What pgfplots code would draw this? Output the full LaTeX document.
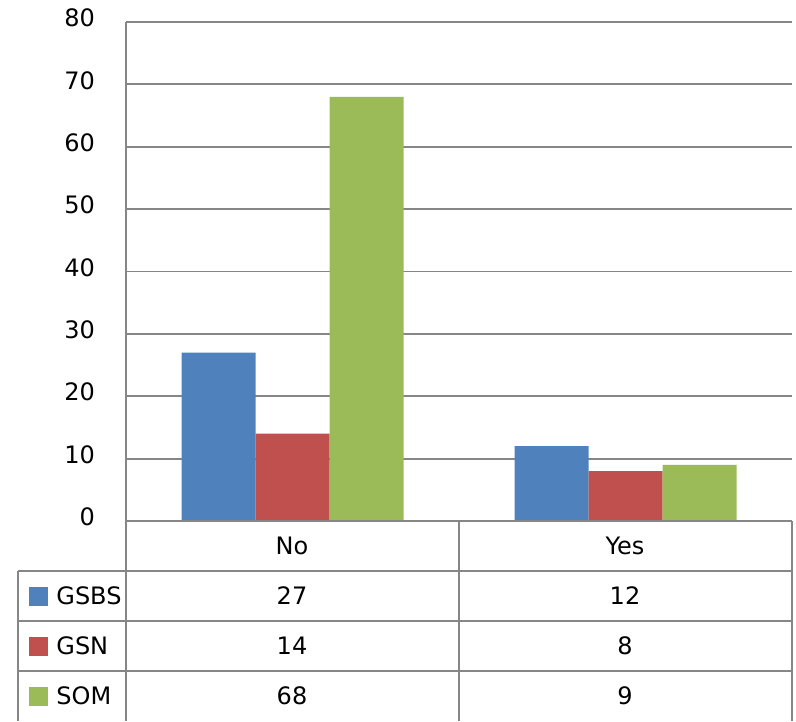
\documentclass[border=0pt]{standalone}
\usepackage{pgfplots}
\pgfplotsset{compat=1.18}
\usepackage{fontspec}
\setmainfont{DejaVu Sans}

\definecolor{cblue}{RGB}{79,129,189}
\definecolor{cred}{RGB}{192,80,77}
\definecolor{cgreen}{RGB}{155,187,89}
\definecolor{linegray}{RGB}{134,134,134}

\begin{document}
\begin{tikzpicture}[font=\fontsize{12}{14}\selectfont]
\begin{axis}[
  scale only axis,
  width=333pt, height=249.5pt,
  xmin=0, xmax=2, ymin=0, ymax=80,
  ybar=0pt, bar width=37pt,
  xtick=\empty,
  ytick={0,10,...,80},
  ymajorgrids,
  grid style={draw=linegray, line width=0.9pt},
  axis x line=none,
  axis y line*=left,
  y axis line style={draw=linegray, line width=0.9pt, -},
  major tick length=0pt,
  yticklabel style={/pgf/number format/assume math mode=true, xshift=-12pt, yshift=2pt},
  clip=false,
]
  % No, Yes
  \addplot[fill=cblue, draw=none] coordinates {(0.5,27) (1.5,12)};
  \addplot[fill=cred, draw=none] coordinates {(0.5,14) (1.5,8)};
  \addplot[fill=cgreen, draw=none] coordinates {(0.5,68) (1.5,9)};
\end{axis}

% data table, in pixel units of the reference
\begin{scope}[x=0.5pt, y=-0.5pt, shift={(-126,-521)}]
  \pgfresetboundingbox
  \path (0,0) rectangle (796,721);
  \begin{scope}[draw=linegray, line width=0.9pt]
    \draw (126,521) -- (792,521);
    \draw (18,571) -- (792,571);
    \draw (18,621) -- (792,621);
    \draw (18,671) -- (792,671);
    \draw (126,521) -- (126,721);
    \draw (459,521) -- (459,721);
    \draw (792,521) -- (792,721);
    \draw (18,571) -- (18,721);
  \end{scope}
  \node at (292,546) {No};
  \node at (625,546) {Yes};
  \node at (292,596) {27};
  \node at (625,596) {12};
  \node at (292,646) {14};
  \node at (625,646) {8};
  \node at (292,696) {68};
  \node at (625,696) {9};
  \fill[cblue] (29,587) rectangle (48,606);
  \fill[cred] (29,637) rectangle (48,656);
  \fill[cgreen] (29,687) rectangle (48,706);
  \node[anchor=west, inner sep=0pt] at (56,596) {GSBS};
  \node[anchor=west, inner sep=0pt] at (56,646) {GSN};
  \node[anchor=west, inner sep=0pt] at (56,696) {SOM};
\end{scope}
\end{tikzpicture}
\end{document}
